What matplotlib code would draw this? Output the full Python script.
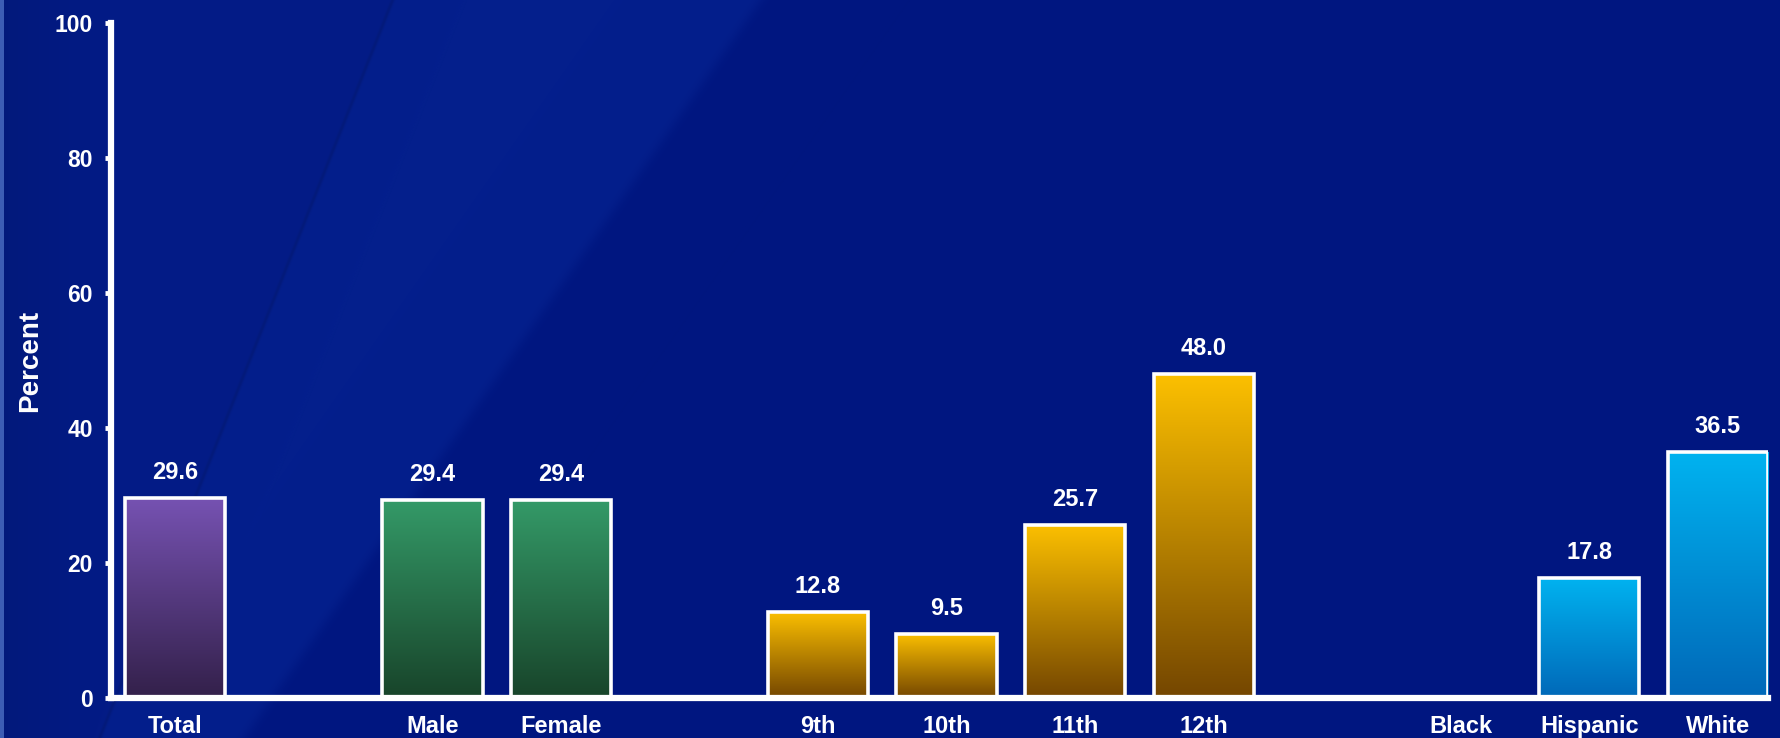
import numpy as np
import matplotlib.pyplot as plt
from matplotlib.colors import LinearSegmentedColormap

# survey results, percent by group
categories = ['Total', '', 'Male', 'Female', '', '9th', '10th', '11th', '12th', '', 'Black', 'Hispanic', 'White']
values = [29.6, None, 29.4, 29.4, None, 12.8, 9.5, 25.7, 48.0, None, None, 17.8, 36.5]
groups = ['total', None, 'sex', 'sex', None, 'grade', 'grade', 'grade', 'grade', None, 'race', 'race', 'race']
y_ticks = [0, 20, 40, 60, 80, 100]

# top colour -> bottom colour for each group
fills = {
    'total': ('#7652b2', '#33204a'),
    'sex': ('#349a68', '#18442a'),
    'grade': ('#fcc000', '#744600'),
    'race': ('#00b3f0', '#0068b8'),
}

plt.rcParams['font.family'] = ['Liberation Sans', 'DejaVu Sans']
plt.rcParams['font.weight'] = 'bold'

W, H = 1781, 738
fig = plt.figure(figsize=(W / 100, H / 100), dpi=100)

# blue backdrop: lighter diagonal band between two slanted edges
bg = fig.add_axes([0, 0, 1, 1], zorder=-10)
yy, xx = np.mgrid[0:H, 0:W].astype(float)
edge2 = 760 - 0.7 * yy
edge1 = 392 - 0.397 * yy
dark = np.array([0, 22, 128]) / 255
band = np.array([4, 31, 140]) / 255
left = np.array([3, 27, 134]) / 255
w_band = 1 / (1 + np.exp(-(edge2 - xx) / 4))
w_left = 1 / (1 + np.exp(-(edge1 - xx) / 2))
img = dark * (1 - w_band[..., None]) + band * w_band[..., None]
img = img * (1 - w_left[..., None]) + left * w_left[..., None]
# faint seam along the first edge
seam = np.exp(-((xx - edge1) / 2.0) ** 2)
img = img * (1 - 0.1 * seam[..., None])
# darker toward the far left, light strip at the border
fade = np.clip(xx / 110, 0, 1)
img = img * (0.92 + 0.08 * fade[..., None])
img[:, :4] = np.array([60, 92, 180]) / 255
bg.imshow(img, extent=[0, 1, 0, 1], aspect='auto', interpolation='bilinear')
bg.axis('off')

ax = fig.add_axes([111 / W, 40 / H, (1768 - 111) / W, (698 - 23) / H])
ax.patch.set_alpha(0)

x = np.arange(len(categories))
for xi, v, g in zip(x, values, groups):
    if v is None:
        continue
    top, bottom = fills[g]
    cmap = LinearSegmentedColormap.from_list(g, [bottom, top])
    bar = ax.bar(xi, v, width=0.78, facecolor='none', edgecolor='white', linewidth=2.6, zorder=3)[0]
    grad = np.linspace(0, 1, 256).reshape(-1, 1)
    im = ax.imshow(grad, cmap=cmap, origin='lower', aspect='auto',
                   extent=[xi - 0.39, xi + 0.39, 0, v], zorder=2)
    im.set_clip_path(bar)
    ax.annotate(f'{v:.1f}', (xi, v), xytext=(0, 10), textcoords='offset points',
                ha='center', va='bottom', color='white', fontsize=17, fontweight='bold')

ax.set_xlim(-0.5, 12.39)
ax.set_ylim(0, 100)
ax.set_xticks(x)
ax.set_xticklabels(categories)
ax.set_yticks(y_ticks)
ax.tick_params(axis='x', length=0, pad=12, labelsize=17, colors='white')
ax.tick_params(axis='y', length=4, width=3.5, pad=9, labelsize=16.5, colors='white')
for s in ['top', 'right']:
    ax.spines[s].set_visible(False)
for s in ['left', 'bottom']:
    ax.spines[s].set_color('white')
    ax.spines[s].set_linewidth(4.5)
    ax.spines[s].set_zorder(4)
ax.set_ylabel('Percent', color='white', fontsize=20, fontweight='bold', labelpad=8)

fig.savefig('out.png', dpi=100)
